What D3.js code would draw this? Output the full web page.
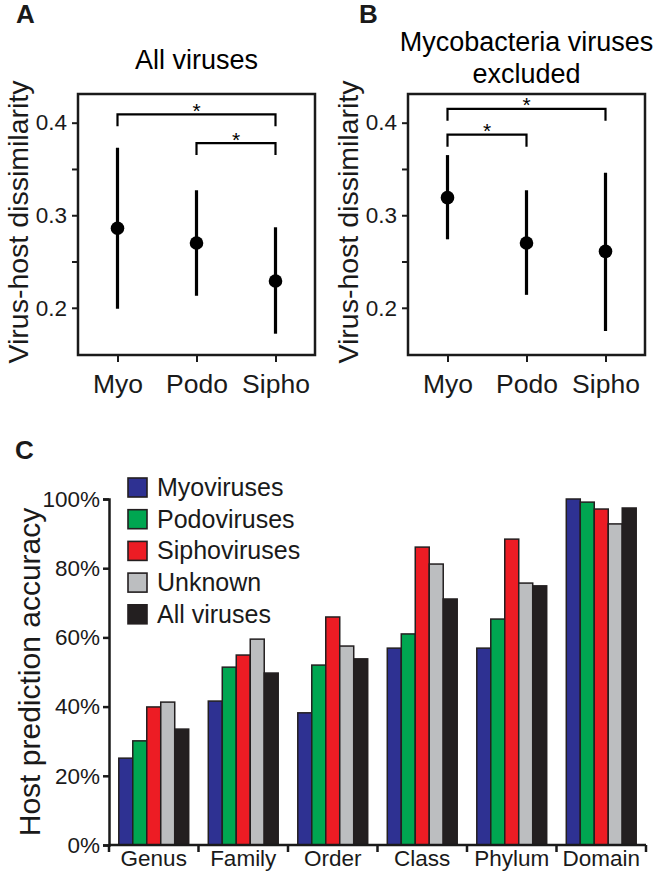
<!DOCTYPE html>
<html>
<head>
<meta charset="utf-8">
<script src="https://cdn.jsdelivr.net/npm/d3@7"></script>
<style>
  html, body { margin: 0; padding: 0; background: #fff; }
  svg { display: block; font-family: "Liberation Sans", Arial, Helvetica, sans-serif; }
</style>
</head>
<body>
<svg id="chart" width="658" height="875"></svg>
<script>
// ---------- Data: panels A & B ----------
const groups = ["Myo", "Podo", "Sipho"];
const allMean = [0.286, 0.270, 0.229];
const allLow  = [0.199, 0.213, 0.172];
const allHigh = [0.373, 0.327, 0.287];
const allBrackets = [["Myo", "Sipho", 0.409], ["Podo", "Sipho", 0.378]];

const exclMean = [0.319, 0.270, 0.261];
const exclLow  = [0.274, 0.214, 0.175];
const exclHigh = [0.365, 0.327, 0.346];
const exclBrackets = [["Myo", "Sipho", 0.415], ["Myo", "Podo", 0.387]];

const dissimTicks = [0.2, 0.25, 0.3, 0.35, 0.4];
const dissimDomain = [0.149, 0.431];

// ---------- Data: panel C ----------
const ranks = ["Genus", "Family", "Order", "Class", "Phylum", "Domain"];
const seriesNames = ["Myoviruses", "Podoviruses", "Siphoviruses", "Unknown", "All viruses"];
const myoviruses   = [25.1, 41.6, 38.2, 56.9, 56.9, 100.0];
const podoviruses  = [30.1, 51.4, 52.0, 61.0, 65.3, 99.1];
const siphoviruses = [39.9, 54.9, 65.9, 86.1, 88.4, 97.1];
const unknown      = [41.3, 59.5, 57.5, 81.2, 75.7, 92.8];
const allViruses   = [33.5, 49.7, 53.8, 71.1, 74.9, 97.4];
const accTicks = [0, 20, 40, 60, 80, 100];
const seriesColors = ["#2e3192", "#00a651", "#ed1c24", "#bcbec0", "#231f20"];

const ink = "#1a1a1a";
const svg = d3.select("#chart");

// ---------- Panels A & B ----------
function dotPanel(left, right, top, bottom, means, lows, highs, brackets, titleLines, titleY, label, labelX, ylabX) {
  const g = svg.append("g");
  const x = d3.scalePoint().domain(groups).range([left, right]).padding(0.5);
  const y = d3.scaleLinear().domain(dissimDomain).range([bottom, top]);

  // y axis ticks (outside box)
  const yAxis = d3.axisLeft(y).tickValues(dissimTicks)
    .tickFormat(d => (Math.abs(d * 10 - Math.round(d * 10)) < 1e-6 ? d3.format(".1f")(d) : ""))
    .tickSize(6).tickPadding(5);
  const ya = g.append("g").attr("transform", `translate(${left},0)`).call(yAxis);
  ya.select(".domain").remove();
  ya.selectAll("line").attr("stroke", ink).attr("stroke-width", 2);
  ya.selectAll("text").attr("font-size", 22.5).attr("fill", ink).attr("font-family", "Liberation Sans, Arial, sans-serif");

  // x axis
  const xAxis = d3.axisBottom(x).tickSize(7).tickPadding(12);
  const xa = g.append("g").attr("transform", `translate(0,${bottom})`).call(xAxis);
  xa.select(".domain").remove();
  xa.selectAll("line").attr("stroke", ink).attr("stroke-width", 2);
  xa.selectAll("text").attr("font-size", 26.5).attr("fill", ink).attr("font-family", "Liberation Sans, Arial, sans-serif");

  // box
  g.append("rect").attr("x", left).attr("y", top).attr("width", right - left).attr("height", bottom - top)
    .attr("fill", "none").attr("stroke", ink).attr("stroke-width", 2.5);

  // error bars
  g.selectAll(".err").data(groups).enter().append("line")
    .attr("x1", d => x(d)).attr("x2", d => x(d))
    .attr("y1", (d, i) => y(lows[i])).attr("y2", (d, i) => y(highs[i]))
    .attr("stroke", "#000").attr("stroke-width", 3.2);
  g.selectAll(".pt").data(groups).enter().append("circle")
    .attr("cx", d => x(d)).attr("cy", (d, i) => y(means[i])).attr("r", 6.8).attr("fill", "#000");

  // significance brackets
  brackets.forEach(b => {
    const yy = y(b[2]);
    const x1 = x(b[0]), x2 = x(b[1]);
    g.append("path").attr("d", `M${x1},${yy + 12}V${yy}H${x2}V${yy + 12}`)
      .attr("fill", "none").attr("stroke", "#000").attr("stroke-width", 2.2);
    g.append("text").attr("x", (x1 + x2) / 2).attr("y", yy + 3.5).attr("text-anchor", "middle")
      .attr("font-size", 21).attr("fill", "#000").text("*");
  });

  // title
  titleLines.forEach((t, i) => {
    g.append("text").attr("x", (left + right) / 2).attr("y", titleY + i * 32).attr("text-anchor", "middle")
      .attr("font-size", 27).attr("fill", "#000").text(t);
  });

  // y label
  g.append("text").attr("transform", `translate(${ylabX},222) rotate(-90)`)
    .attr("text-anchor", "middle").attr("font-size", 28.5).attr("fill", ink).text("Virus-host dissimilarity");

  // panel letter
  g.append("text").attr("x", labelX).attr("y", 23).attr("font-size", 26).attr("font-weight", "bold")
    .attr("fill", ink).text(label);
}

dotPanel(78, 315, 94, 355, allMean, allLow, allHigh, allBrackets, ["All viruses"], 69, "A", 16, 28);
dotPanel(408, 645, 94, 355, exclMean, exclLow, exclHigh, exclBrackets, ["Mycobacteria viruses", "excluded"], 51, "B", 359, 358);

// ---------- Panel C ----------
(function () {
  const left = 109, right = 646, top = 499, bottom = 845;
  const g = svg.append("g");
  const values = [myoviruses, podoviruses, siphoviruses, unknown, allViruses];

  const x0 = d3.scaleBand().domain(ranks).range([left, right]).padding(0);
  const x1 = d3.scaleBand().domain(seriesNames).range([0, x0.bandwidth()]).paddingInner(0).paddingOuter(0.7);
  const y = d3.scaleLinear().domain([0, 100]).range([bottom, top]);

  // bars
  ranks.forEach((r, ci) => {
    seriesNames.forEach((s, si) => {
      g.append("rect")
        .attr("x", x0(r) + x1(s)).attr("width", x1.bandwidth())
        .attr("y", y(values[si][ci])).attr("height", bottom - y(values[si][ci]))
        .attr("fill", seriesColors[si]).attr("stroke", "#231f20").attr("stroke-width", 1.5);
    });
  });

  // y axis
  const yAxis = d3.axisLeft(y).tickValues(accTicks).tickFormat(d => d + "%").tickSize(6).tickPadding(3);
  const ya = g.append("g").attr("transform", `translate(${left},0)`).call(yAxis);
  ya.select(".domain").attr("stroke", ink).attr("stroke-width", 2.5);
  ya.selectAll("line").attr("stroke", ink).attr("stroke-width", 2.5);
  ya.selectAll("text").attr("font-size", 22.5).attr("fill", ink).attr("font-family", "Liberation Sans, Arial, sans-serif");

  // x axis: separators at band edges
  const edges = ranks.map(r => x0(r)).concat([right]);
  g.append("line").attr("x1", left).attr("x2", right).attr("y1", bottom).attr("y2", bottom)
    .attr("stroke", ink).attr("stroke-width", 2.5);
  g.selectAll(".sep").data(edges).enter().append("line")
    .attr("x1", d => d).attr("x2", d => d).attr("y1", bottom).attr("y2", bottom + 7)
    .attr("stroke", ink).attr("stroke-width", 2.5);
  g.selectAll(".cat").data(ranks).enter().append("text")
    .attr("x", d => x0(d) + x0.bandwidth() / 2).attr("y", 866).attr("text-anchor", "middle")
    .attr("font-size", 22.5).attr("fill", ink).text(d => d);

  // y label
  g.append("text").attr("transform", `translate(40,${(top + bottom) / 2}) rotate(-90)`)
    .attr("text-anchor", "middle").attr("font-size", 30).attr("fill", ink).text("Host prediction accuracy");

  // legend
  const lg = g.append("g");
  seriesNames.forEach((s, i) => {
    const yy = 478 + i * 31.7;
    lg.append("rect").attr("x", 128).attr("y", yy).attr("width", 19).attr("height", 19)
      .attr("fill", seriesColors[i]).attr("stroke", "#231f20").attr("stroke-width", 1.6);
    lg.append("text").attr("x", 157).attr("y", yy + 18).attr("font-size", 25).attr("fill", ink).text(s);
  });

  // panel letter
  g.append("text").attr("x", 15).attr("y", 459).attr("font-size", 26).attr("font-weight", "bold")
    .attr("fill", ink).text("C");
})();
</script>
</body>
</html>
